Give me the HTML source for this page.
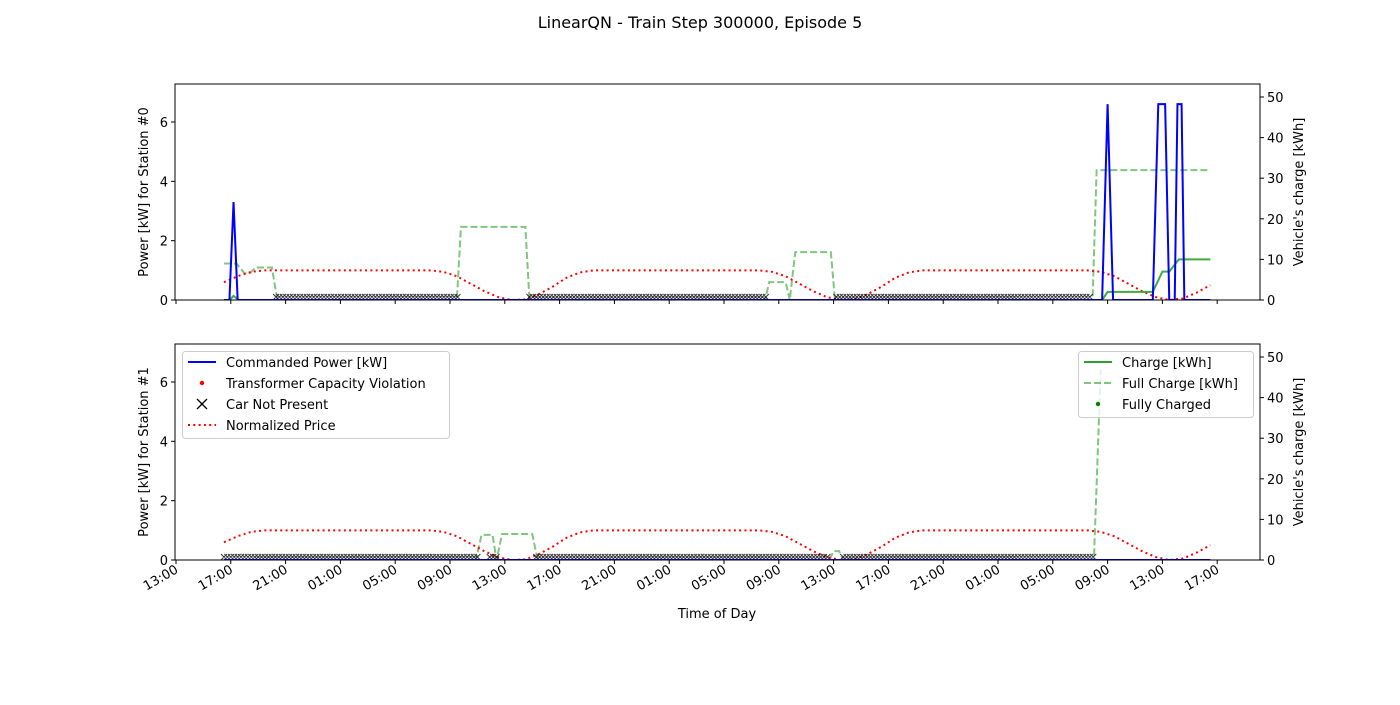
<!DOCTYPE html>
<html><head><meta charset="utf-8"><style>
body{margin:0;background:#fff;}
svg text{font-family:"DejaVu Sans","Liberation Sans",sans-serif;}
</style></head><body>
<svg id="chart" width="1400" height="700" xmlns="http://www.w3.org/2000/svg">
<rect width="1400" height="700" fill="#fff"/>
<text x="700" y="28" font-size="16" text-anchor="middle">LinearQN - Train Step 300000, Episode 5</text>
<g id="g"></g>
</svg>
<script>
// ---- data ----
const tickLabels = ["13:00","17:00","21:00","01:00","05:00","09:00","13:00","17:00","21:00","01:00","05:00","09:00","13:00","17:00","21:00","01:00","05:00","09:00","13:00","17:00"];
const leftTicks = [0,2,4,6];
const rightTicks = [0,10,20,30,40,50];
const priceStart = 3.5;
const priceValues = [0.6,0.8,0.95,1, 1,1,1,1,1,1,1,1,1,1,1,1,
 0.95,0.8,0.55,0.3,0.1,0,0.02,0.2,0.45,0.75,0.93,1,
 1,1,1,1,1,1,1,1,1,1,1,1,
 0.95,0.8,0.55,0.3,0.1,0,0.02,0.2,0.45,0.75,0.93,1,
 1,1,1,1,1,1,1,1,1,1,1,1,
 0.95,0.8,0.55,0.3,0.1,0,0.05,0.25,0.5];
// station 0
const s0PowerT = [3.5,3.9,4.2,4.5,67.6,68,68.4,71.3,71.7,72.2,72.5,72.9,73.1,73.4,73.6,75.5];
const s0PowerV = [0,0,3.3,0,0,6.6,0,0,6.6,6.6,0,0,6.6,6.6,0,0];
const s0ChargeT = [3.5,3.9,4.2,4.6,67.6,68,71.3,72.0,72.5,73.2,73.6,75.5];
const s0ChargeV = [0,0,1,0,0,2,2,7,7,10,10,10];
const s0FullT = [3.5,4.4,5.0,5.4,5.8,6.3,7.0,7.4,20.5,20.8,25.5,25.8,43.0,43.3,44.5,44.8,45.2,47.8,48.1,66.9,67.2,75.5];
const s0FullV = [9,9,6.6,6.6,8,8,8,0,0,18,18,0,0,4.4,4.4,0,11.8,11.8,0,0,32,32];
const s0AbsentStart = [7.3,25.8,48.2];
const s0AbsentEnd = [20.6,43.1,66.9];
// station 1
const s1PowerT = [3.5,75.5];
const s1PowerV = [0,0];
const s1ChargeT = [3.5,75.5];
const s1ChargeV = [0,0];
const s1FullT = [3.5,21.9,22.3,23.1,23.4,23.8,26.0,26.4,47.7,48.0,48.4,48.7,67.0,67.5];
const s1FullV = [0,0,6.2,6.2,0,6.4,6.4,0,0,2.2,2.2,0,0,47];
const s1AbsentStart = [3.5,22.9,26.3,48.7];
const s1AbsentEnd = [22.0,23.6,47.7,67.0];

// ---- layout ----
const L=175,R=1260;
const axes=[{top:84,bot:300,name:"station-0",ylab:"Power [kW] for Station #0"},{top:344,bot:560,name:"station-1",ylab:"Power [kW] for Station #1"}];
const X=h=>176+h*13.7;
const leftMax=(300-84)/29.67, rightMax=(300-84)/4.06;
const NS="http://www.w3.org/2000/svg";
const g=document.getElementById('g');
function el(tag,attrs,parent){const e=document.createElementNS(NS,tag);for(const k in attrs)e.setAttribute(k,attrs[k]);(parent||g).appendChild(e);return e;}
function txt(s,attrs,parent){const e=el('text',attrs,parent);e.textContent=s;return e;}

const stations=[
 {pt:s0PowerT,pv:s0PowerV,ct:s0ChargeT,cv:s0ChargeV,ft:s0FullT,fv:s0FullV,as:s0AbsentStart,ae:s0AbsentEnd},
 {pt:s1PowerT,pv:s1PowerV,ct:s1ChargeT,cv:s1ChargeV,ft:s1FullT,fv:s1FullV,as:s1AbsentStart,ae:s1AbsentEnd}];

axes.forEach((a,i)=>{
 const st=stations[i];
 const yl=v=>a.bot-v/leftMax*(a.bot-a.top);
 const yr=v=>a.bot-v/rightMax*(a.bot-a.top);
 const ax=el('g',{});
 
 
 const clipId='clip'+i;
 const cp=el('clipPath',{id:clipId},ax);el('rect',{x:L,y:a.top,width:R-L,height:a.bot-a.top},cp);
 const plot=el('g',{'clip-path':'url(#'+clipId+')'},ax);
 let d=st.ft.map((t,k)=>(k?'L':'M')+X(t)+','+yr(st.fv[k])).join(' ');
 const fl=el('path',{d,fill:'none',stroke:'#2ca02c','stroke-opacity':0.6,'stroke-width':2,'stroke-dasharray':'7,3'},plot);
 
 
 d=priceValues.map((v,k)=>(k?'L':'M')+X(priceStart+k)+','+yl(v)).join(' ');
 const pl=el('path',{d,fill:'none',stroke:'red','stroke-width':2,'stroke-dasharray':'2,3.3'},plot);
 
 
 let md='';
 st.as.forEach((s,k)=>{for(let t=s;t<=st.ae[k]+0.001;t+=0.25){const x=X(t),y=yl(0.1);md+=`M${x-3},${y-3}L${x+3},${y+3}M${x-3},${y+3}L${x+3},${y-3}`;}});
 const mk=el('path',{d:md,stroke:'#000','stroke-width':1,'stroke-opacity':0.8,fill:'none'},plot);
 
 
 d=st.ct.map((t,k)=>(k?'L':'M')+X(t)+','+yr(st.cv[k])).join(' ');
 const cl=el('path',{d,fill:'none',stroke:'#2ca02c','stroke-opacity':0.9,'stroke-width':2},plot);
 
 
 d=st.pt.map((t,k)=>(k?'L':'M')+X(t)+','+yl(st.pv[k])).join(' ');
 const pw=el('path',{d,fill:'none',stroke:'blue','stroke-width':2},plot);
 
 
 el('rect',{x:L,y:a.top,width:R-L,height:a.bot-a.top,fill:'none',stroke:'#000','stroke-width':1},ax);
 tickLabels.forEach((lab,k)=>{const x=X(k*4);el('line',{x1:x,x2:x,y1:a.bot,y2:a.bot+4,stroke:'#000'},ax);
  if(i===1){const t=txt(lab,{x:x+3,y:a.bot+12,'font-size':13,'text-anchor':'end',transform:`rotate(-30 ${x+3} ${a.bot+12})`},ax);
   
   }});
 leftTicks.forEach(v=>{const y=yl(v);el('line',{x1:L-4,x2:L,y1:y,y2:y,stroke:'#000'},ax);
  const t=txt(String(v),{x:L-7,y:y+5,'font-size':13,'text-anchor':'end'},ax);
  
  });
 rightTicks.forEach(v=>{const y=yr(v);el('line',{x1:R,x2:R+4,y1:y,y2:y,stroke:'#000'},ax);
  const t=txt(String(v),{x:R+7,y:y+5,'font-size':13},ax);
  
  });
 const cy=(a.top+a.bot)/2;
 const ylab=txt(a.ylab,{x:148,y:cy,'font-size':13,'text-anchor':'middle',transform:`rotate(-90 148 ${cy})`},ax);
 
 
 const yr2=txt("Vehicle's charge [kWh]",{x:1303,y:cy,'font-size':13,'text-anchor':'middle',transform:`rotate(-90 1303 ${cy})`},ax);
 
 
});
const xt=txt('Time of Day',{x:717,y:618,'font-size':13,'text-anchor':'middle'});



const lg1=el('g',{});


el('rect',{x:182.5,y:351.5,width:267,height:87,rx:3,fill:'#fff','fill-opacity':0.8,stroke:'#ccc'},lg1);
el('line',{x1:188,x2:216,y1:362,y2:362,stroke:'blue','stroke-width':2},lg1);
txt('Commanded Power [kW]',{x:226,y:367,'font-size':13},lg1);
el('circle',{cx:202,cy:383,r:2.2,fill:'red'},lg1);
txt('Transformer Capacity Violation',{x:226,y:388,'font-size':13},lg1);
el('path',{d:'M197,399L207,409M197,409L207,399',stroke:'#000','stroke-width':1.3},lg1);
txt('Car Not Present',{x:226,y:409,'font-size':13},lg1);
el('line',{x1:188,x2:216,y1:425,y2:425,stroke:'red','stroke-width':2,'stroke-dasharray':'2,3.3'},lg1);
txt('Normalized Price',{x:226,y:430,'font-size':13},lg1);
const lg2=el('g',{});


el('rect',{x:1078.5,y:351.5,width:175,height:66,rx:3,fill:'#fff','fill-opacity':0.8,stroke:'#ccc'},lg2);
el('line',{x1:1084,x2:1112,y1:362,y2:362,stroke:'#2ca02c','stroke-width':2},lg2);
txt('Charge [kWh]',{x:1122,y:367,'font-size':13},lg2);
el('line',{x1:1084,x2:1112,y1:383,y2:383,stroke:'#2ca02c','stroke-opacity':0.6,'stroke-width':2,'stroke-dasharray':'7,3'},lg2);
txt('Full Charge [kWh]',{x:1122,y:388,'font-size':13},lg2);
el('circle',{cx:1098,cy:404,r:2.2,fill:'green'},lg2);
txt('Fully Charged',{x:1122,y:409,'font-size':13},lg2);
</script>
</body></html>
